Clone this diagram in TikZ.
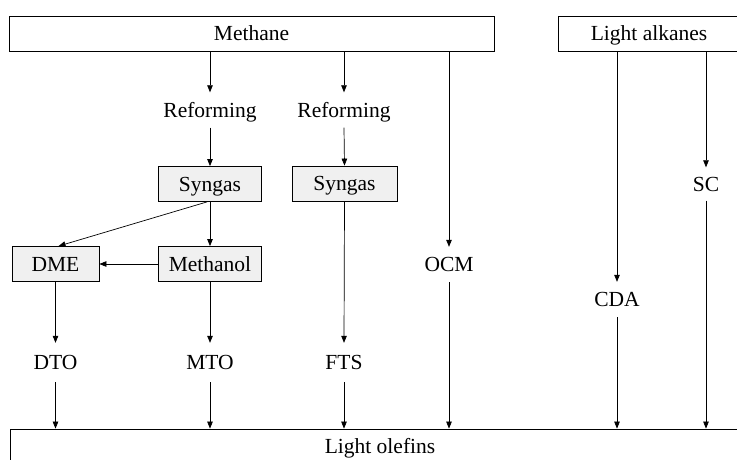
\documentclass[tikz,border=0pt]{standalone}
\usepackage{fontspec}
\setmainfont{Liberation Serif}
\usetikzlibrary{arrows.meta}
\begin{document}
\begin{tikzpicture}[x=1pt,y=-1pt,
  every node/.style={font=\fontsize{21.5}{25}\selectfont, text height=17pt, text depth=3pt, inner sep=0pt},
  bigbox/.style={draw=black, line width=0.8pt, fill=white, minimum height=35pt},
  graybox/.style={draw=black, line width=0.8pt, fill=black!6, minimum height=35pt},
  lbl/.style={minimum height=35pt},
  arr/.style={-{Triangle[length=7pt,width=5.5pt]}, line width=0.7pt}]
\clip (0,0) rectangle (737,459);
\fill[white] (0,0) rectangle (737,459);
% boxes
\node[bigbox, minimum width=485pt] (methane) at (251.5,33.5) {Methane};
\node[bigbox, minimum width=182pt] (alkanes) at (649,33.5) {Light alkanes};
\node[bigbox, minimum width=740pt, minimum height=34pt] (olefins) at (380,446) {Light olefins};
\node[lbl] (ref1) at (210,110) {Reforming};
\node[lbl] (ref2) at (344,110) {Reforming};
\node[graybox, minimum width=103pt] (syn1) at (210,184) {Syngas};
\node[graybox, minimum width=105pt] (syn2) at (344.5,183.5) {Syngas};
\node[graybox, minimum width=87pt] (dme) at (55.5,264) {DME};
\node[graybox, minimum width=103pt] (meth) at (210,264) {Methanol};
\node[lbl, minimum height=39pt] (dto) at (55.5,362.5) {DTO};
\node[lbl, minimum height=39pt] (mto) at (210,362.5) {MTO};
\node[lbl, minimum height=39pt] (fts) at (344,362.5) {FTS};
\node[lbl] (ocm) at (449,264.5) {OCM};
\node[lbl] (cda) at (617,299.5) {CDA};
\node[lbl, minimum height=33pt] (sc) at (706,184) {SC};
\coordinate (s1) at ([xshift=-3pt]syn1.south);
% connectors
\draw[arr] (ref1.north |- methane.south) -- (ref1.north);
\draw[arr] (ref2.north |- methane.south) -- (ref2.north);
\draw[arr] (ocm.north |- methane.south) -- (ocm.north);
\draw[arr] (cda.north |- alkanes.south) -- (cda.north);
\draw[arr] (sc.north |- alkanes.south) -- (sc.north);
\draw[arr] (ref1.south) -- (syn1.north);
\draw[arr] (ref2.south) -- (syn2.north);
\draw[arr] (s1) -- ([xshift=3pt]dme.north);
\draw[arr] (syn1.south) -- (meth.north);
\draw[arr] (meth.west) -- (dme.east);
\draw[arr] (dme.south) -- (dto.north);
\draw[arr] (meth.south) -- (mto.north);
\draw[arr] (syn2.south) -- (fts.north);
\draw[arr] (dto.south) -- (dto.south |- olefins.north);
\draw[arr] (mto.south) -- (mto.south |- olefins.north);
\draw[arr] (fts.south) -- (fts.south |- olefins.north);
\draw[arr] (ocm.south) -- (ocm.south |- olefins.north);
\draw[arr] (cda.south) -- (cda.south |- olefins.north);
\draw[arr] (sc.south) -- (sc.south |- olefins.north);
\end{tikzpicture}
\end{document}
